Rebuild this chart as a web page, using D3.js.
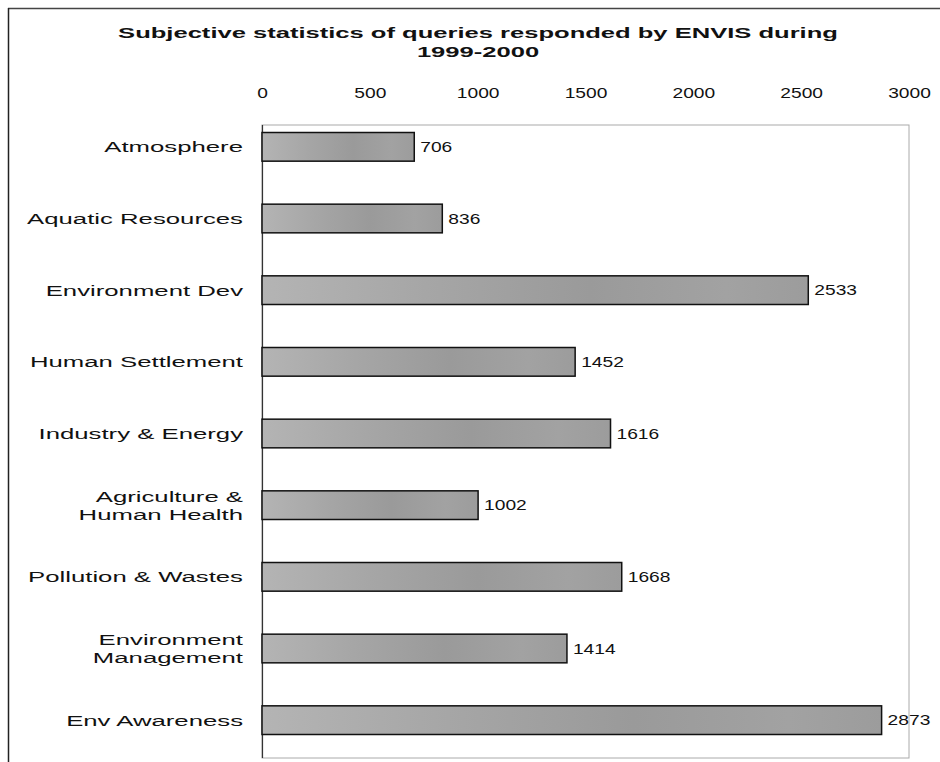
<!DOCTYPE html>
<html><head><meta charset="utf-8">
<script src="https://cdn.jsdelivr.net/npm/d3@7"></script>
<style>body{margin:0;background:#fff}svg{display:block}text{font-family:"Liberation Sans",Arial,sans-serif;fill:#111}</style>
</head><body><svg id="c" width="940" height="762"></svg>
<script>
const categories = [["Atmosphere"],["Aquatic Resources"],["Environment Dev"],["Human Settlement"],["Industry & Energy"],["Agriculture &","Human Health"],["Pollution & Wastes"],["Environment","Management"],["Env Awareness"]];
const values = [706,836,2533,1452,1616,1002,1668,1414,2873];
const tickValues = [0,500,1000,1500,2000,2500,3000];
const titleLines = ["Subjective statistics of queries responded by ENVIS during","1999-2000"];

const svg = d3.select("#c");
const W=940,H=762;
const x = d3.scaleLinear().domain([0,3000]).range([262,909]);
const keys = categories.map((c,i)=>i);
const y = d3.scaleBand().domain(keys).range([111,756]).paddingInner(0.6).paddingOuter(0.3);

const defs = svg.append("defs");
const g = defs.append("linearGradient").attr("id","bg").attr("x1","0").attr("x2","1").attr("y1","0").attr("y2","0");
[[0,"#b4b4b4"],[0.3,"#a6a6a6"],[0.6,"#9a9a9a"],[0.85,"#a2a2a2"],[1,"#9c9c9c"]].forEach(([o,c])=>g.append("stop").attr("offset",o).attr("stop-color",c));

// outer frame
svg.append("line").attr("x1",8).attr("x2",W).attr("y1",8.5).attr("y2",8.5).attr("stroke","#444").attr("stroke-width",1.5);
svg.append("line").attr("x1",8.5).attr("x2",8.5).attr("y1",8).attr("y2",H).attr("stroke","#222").attr("stroke-width",1.5);

// plot frame
svg.append("rect").attr("x",262).attr("y",125).attr("width",x(3000)-262).attr("height",758-125)
  .attr("fill","none").attr("stroke","#aaa").attr("stroke-width",1);
svg.append("line").attr("x1",262.5).attr("x2",262.5).attr("y1",125).attr("y2",758).attr("stroke","#333").attr("stroke-width",1.2);

// title
titleLines.forEach((t,i)=>{
  svg.append("text").attr("transform",`translate(478,${38+i*19}) scale(1.65,1)`).attr("text-anchor","middle")
    .style("font-weight","bold").style("font-size","15.5px").text(t);
});

// top axis
const ax = d3.axisTop(x).tickValues(tickValues).tickSize(0).tickPadding(0).tickFormat(d3.format("d"));
const axg = svg.append("g").attr("transform","translate(0,98)").call(ax);
axg.select(".domain").remove();
axg.selectAll("text").style("font-size","15px").style("font-family","'Liberation Sans',Arial,sans-serif")
  .attr("fill","#111").attr("transform","scale(1.28,1)");

// bars
svg.selectAll("rect.bar").data(values).join("rect").attr("class","bar")
  .attr("x",x(0)).attr("y",(d,i)=>y(i)).attr("width",d=>x(d)-x(0)).attr("height",y.bandwidth())
  .attr("fill","url(#bg)").attr("stroke","#111").attr("stroke-width",1.5);

// value labels
svg.selectAll("text.val").data(values).join("text").attr("class","val")
  .attr("transform",(d,i)=>`translate(${x(d)+6},${y(i)+y.bandwidth()/2}) scale(1.28,1)`).attr("dy","0.35em")
  .style("font-size","15px").text(d=>d);

// category labels
categories.forEach((lines,i)=>{
  const cy = y(i)+y.bandwidth()/2;
  const t = svg.append("text").attr("transform",`translate(243,${cy}) scale(1.66,1)`).attr("text-anchor","end").style("font-size","15.5px");
  lines.forEach((l,j)=>{
    t.append("tspan").attr("x",0).attr("y",(j-(lines.length-1)/2)*18).attr("dy","0.35em").text(l);
  });
});
</script></body></html>
